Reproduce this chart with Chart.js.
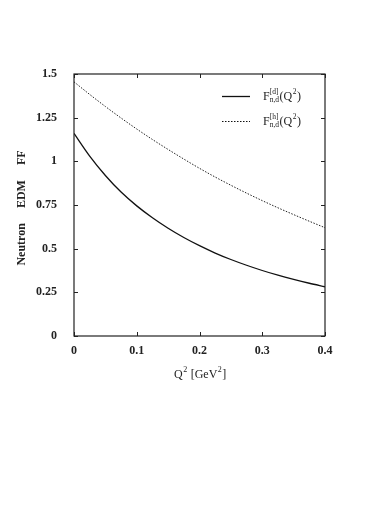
<!DOCTYPE html>
<html>
<head>
<meta charset="utf-8">
<script src="https://cdn.jsdelivr.net/npm/chart.js@4"></script>
<style>
  body { margin: 0; background: #fff; }
  #wrap { width: 373px; height: 526px; }
</style>
</head>
<body>
<div id="wrap"><canvas id="ffChart" width="373" height="526"></canvas></div>
<script>
// Q^2 values (GeV^2) and the two form factor curves
const qValues = [0, 0.025, 0.05, 0.075, 0.1, 0.125, 0.15, 0.175, 0.2,
                 0.225, 0.25, 0.275, 0.3, 0.325, 0.35, 0.375, 0.4];
const ffD = [1.16, 1.03, 0.919, 0.824, 0.745, 0.677, 0.617, 0.564, 0.517,
             0.475, 0.438, 0.405, 0.375, 0.348, 0.324, 0.302, 0.282];
const ffH = [1.455, 1.383, 1.314, 1.248, 1.185, 1.125, 1.068, 1.013, 0.96,
             0.91, 0.863, 0.818, 0.775, 0.734, 0.695, 0.657, 0.62];

const xTickLabels = ['0', '0.1', '0.2', '0.3', '0.4'];
const yTickLabels = ['0', '0.25', '0.5', '0.75', '1', '1.25', '1.5'];

const serif = '"Liberation Serif", "DejaVu Serif", serif';

function toPoints(ys) {
  return qValues.map((q, i) => ({ x: q, y: ys[i] }));
}

// frame with inward ticks, titles and legend
const decorations = {
  id: 'decorations',
  afterDraw(chart) {
    const ctx = chart.ctx;
    const a = chart.chartArea;
    const xs = chart.scales.x, ys = chart.scales.y;
    ctx.save();
    ctx.strokeStyle = '#222';
    ctx.lineWidth = 1.2;
    ctx.strokeRect(a.left, a.top, a.right - a.left, a.bottom - a.top);

    ctx.lineWidth = 1;
    ctx.beginPath();
    xs.ticks.forEach(t => {
      const px = Math.round(xs.getPixelForValue(t.value)) + 0.5;
      ctx.moveTo(px, a.bottom); ctx.lineTo(px, a.bottom - 4);
      ctx.moveTo(px, a.top); ctx.lineTo(px, a.top + 4);
    });
    ys.ticks.forEach(t => {
      const py = Math.round(ys.getPixelForValue(t.value)) + 0.5;
      ctx.moveTo(a.left, py); ctx.lineTo(a.left + 4, py);
      ctx.moveTo(a.right, py); ctx.lineTo(a.right - 4, py);
    });
    ctx.stroke();

    // axis titles
    ctx.fillStyle = '#222';
    ctx.textBaseline = 'middle';
    ctx.textAlign = 'left';
    ctx.font = '12px ' + serif;
    let x0 = 174;
    ctx.fillText('Q', x0, 375);
    x0 += ctx.measureText('Q').width;
    ctx.font = '8px ' + serif;
    ctx.fillText('2', x0 + 0.5, 370);
    x0 += ctx.measureText('2').width + 4;
    ctx.font = '12px ' + serif;
    ctx.fillText('[GeV', x0, 375);
    x0 += ctx.measureText('[GeV').width;
    ctx.font = '8px ' + serif;
    ctx.fillText('2', x0 + 0.5, 370);
    x0 += ctx.measureText('2').width + 1;
    ctx.font = '12px ' + serif;
    ctx.fillText(']', x0, 375);

    ctx.save();
    ctx.translate(22, 208);
    ctx.rotate(-Math.PI / 2);
    ctx.textAlign = 'center';
    ctx.font = 'bold 12px ' + serif;
    ctx.fillText('Neutron     EDM     FF', 0, 0);
    ctx.restore();

    // legend
    const rows = [
      { y: 96, sup: '[d]', dash: [] , width: 1.3 },
      { y: 121, sup: '[h]', dash: [1.5, 1.5], width: 1 }
    ];
    rows.forEach(r => {
      ctx.beginPath();
      ctx.setLineDash(r.dash);
      ctx.lineWidth = r.width;
      ctx.strokeStyle = '#111';
      ctx.moveTo(222, r.y + 0.5);
      ctx.lineTo(250, r.y + 0.5);
      ctx.stroke();
      ctx.setLineDash([]);

      let tx = 263;
      ctx.textAlign = 'left';
      ctx.font = '12px ' + serif;
      ctx.fillText('F', tx, r.y + 1);
      tx += ctx.measureText('F').width;
      ctx.font = '7.5px ' + serif;
      ctx.fillText(r.sup, tx, r.y - 4);
      const w1 = ctx.measureText(r.sup).width;
      ctx.fillText('n,d', tx, r.y + 4);
      const w2 = ctx.measureText('n,d').width;
      tx += Math.max(w1, w2) + 0.5;
      ctx.font = '12px ' + serif;
      ctx.fillText('(Q', tx, r.y + 1);
      tx += ctx.measureText('(Q').width;
      ctx.font = '7.5px ' + serif;
      ctx.fillText('2', tx + 0.5, r.y - 4);
      tx += ctx.measureText('2').width + 1;
      ctx.font = '12px ' + serif;
      ctx.fillText(')', tx, r.y + 1);
    });
    ctx.restore();
  }
};

new Chart(document.getElementById('ffChart'), {
  type: 'line',
  data: {
    datasets: [
      {
        label: 'F[d]',
        data: toPoints(ffD),
        borderColor: '#111',
        borderWidth: 1.3,
        pointRadius: 0,
        cubicInterpolationMode: 'monotone',
        fill: false
      },
      {
        label: 'F[h]',
        data: toPoints(ffH),
        borderColor: '#222',
        borderWidth: 1,
        borderDash: [1.5, 1.5],
        pointRadius: 0,
        cubicInterpolationMode: 'monotone',
        fill: false
      }
    ]
  },
  options: {
    responsive: false,
    animation: false,
    layout: { padding: { left: 0, top: 74, right: 48, bottom: 0 } },
    plugins: { legend: { display: false }, tooltip: { enabled: false } },
    scales: {
      x: {
        type: 'linear',
        min: 0,
        max: 0.4,
        grid: { display: false, drawTicks: true, tickLength: 0 },
        border: { display: false },
        ticks: {
          stepSize: 0.1,
          padding: 8,
          color: '#222',
          font: { family: serif, size: 12, weight: 'bold' },
          callback: (v, i) => xTickLabels[i]
        },
        afterFit: s => { s.height = 190; }
      },
      y: {
        min: 0,
        max: 1.5,
        grid: { display: false, drawTicks: true, tickLength: 0 },
        border: { display: false },
        ticks: {
          stepSize: 0.25,
          padding: 17,
          color: '#222',
          font: { family: serif, size: 12, weight: 'bold' },
          callback: (v, i) => yTickLabels[i]
        },
        afterFit: s => { s.width = 74; }
      }
    }
  },
  plugins: [decorations]
});
</script>
</body>
</html>
